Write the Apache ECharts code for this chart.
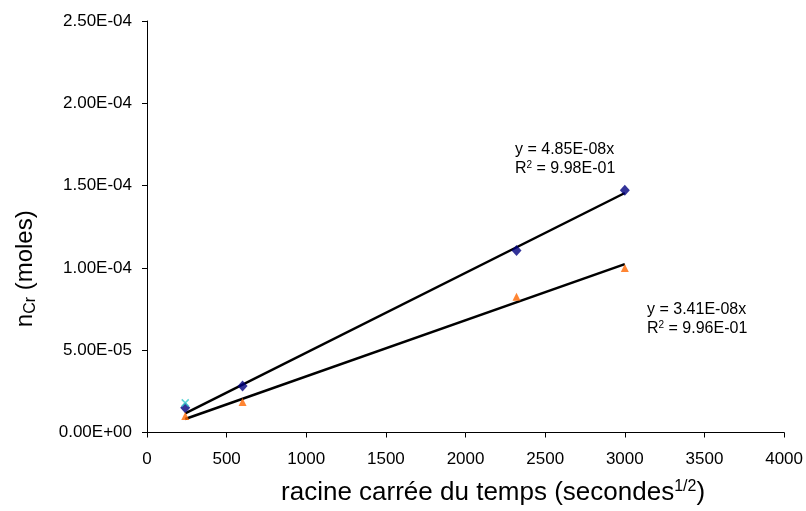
<!DOCTYPE html>
<html><head><meta charset="utf-8">
<script src="https://cdn.jsdelivr.net/npm/echarts@6/dist/echarts.min.js"></script>
<style>html,body{margin:0;padding:0;background:#fff}#c{width:806px;height:511px}</style>
</head><body><div id="c"></div>
<script>
const blueX = [240, 600, 2320, 3000];
const blueY = [1.5e-5, 2.82e-5, 1.105e-4, 1.472e-4];
const orangeX = [240, 600, 2320, 3000];
const orangeY = [1.0e-5, 1.86e-5, 8.25e-5, 1.0e-4];
const cyanX = [240];
const cyanY = [1.8e-5];
const blueTrend = [[240, 1.16e-5], [3000, 1.455e-4]];
const orangeTrend = [[240, 8.2e-6], [3000, 1.023e-4]];
const xTicks = {min: 0, max: 4000, interval: 500};
const yTicks = {min: 0, max: 2.5e-4, interval: 5e-5};

function fmtE(v) {
  if (v === 0) return '0.00E+00';
  let e = Math.floor(Math.log10(Math.abs(v)) + 1e-9);
  let m = v / Math.pow(10, e);
  if (Math.abs(m) >= 9.995) { m /= 10; e += 1; }
  const s = e < 0 ? '-' : '+';
  const ea = Math.abs(e);
  return m.toFixed(2) + 'E' + s + (ea < 10 ? '0' : '') + ea;
}
const zip = (a, b) => a.map((x, i) => [x, b[i]]);
const font = 'Liberation Sans, Arial, sans-serif';
const annA = {fontFamily: font, fontSize: 16, fill: '#000'};
const annS = {fontFamily: font, fontSize: 10, fill: '#000', padding: [0, 0, 7, 0]};
const chart = echarts.init(document.getElementById('c'));
chart.setOption({
  animation: false,
  backgroundColor: '#fff',
  grid: {left: 147, right: 21, top: 21, bottom: 73},
  xAxis: {
    type: 'value', min: xTicks.min, max: xTicks.max, interval: xTicks.interval,
    splitLine: {show: false},
    axisLine: {onZero: false, lineStyle: {color: '#000', width: 1}},
    axisTick: {inside: false, length: 5, lineStyle: {color: '#000'}},
    axisLabel: {color: '#000', fontFamily: font, fontSize: 17, margin: 18, formatter: v => String(v)},
    name: '{a|racine carrée du temps (secondes}{s|1/2}{a|)}',
    nameLocation: 'middle', nameGap: 46,
    nameTextStyle: {padding: [0, 0, 0, 55], rich: {
      a: {fontFamily: font, fontSize: 26, color: '#000'},
      s: {fontFamily: font, fontSize: 16, color: '#000', padding: [0, 0, 13, 0]}
    }}
  },
  yAxis: {
    type: 'value', min: yTicks.min, max: yTicks.max, interval: yTicks.interval,
    splitLine: {show: false},
    axisLine: {show: true, lineStyle: {color: '#000', width: 1}},
    axisTick: {show: true, inside: false, length: 5, lineStyle: {color: '#000'}},
    axisLabel: {color: '#000', fontFamily: font, fontSize: 17, margin: 15, formatter: fmtE},
    name: '{a|n}{s|Cr}{a| (moles)}',
    nameLocation: 'middle', nameGap: 108, nameRotate: 90,
    nameTextStyle: {padding: [0, 84, 0, 0], rich: {
      a: {fontFamily: font, fontSize: 24, color: '#000'},
      s: {fontFamily: font, fontSize: 16, color: '#000', padding: [12, 0, 0, 0]}
    }}
  },
  series: [
    {type: 'line', data: blueTrend, symbol: 'none', lineStyle: {color: '#000', width: 2.5}, z: 2},
    {type: 'line', data: orangeTrend, symbol: 'none', lineStyle: {color: '#000', width: 2.5}, z: 2},
    {type: 'scatter', data: zip(blueX, blueY), symbol: 'diamond', symbolSize: [10, 11], itemStyle: {color: '#000080'}, z: 3},
    {type: 'scatter', data: zip(orangeX, orangeY), symbol: 'triangle', symbolSize: [8, 8], itemStyle: {color: '#FF6600'}, z: 3},
    {type: 'scatter', data: zip(cyanX, cyanY), symbol: 'path://M0,0L10,10M10,0L0,10', symbolSize: 7,
     itemStyle: {color: 'none', borderColor: '#33CCCC', borderWidth: 1.5}, z: 4}
  ],
  graphic: [
    {type: 'text', left: 515, top: 142, style: {text: '{a|y = 4.85E-08x}', rich: {a: annA}}},
    {type: 'text', left: 515, top: 160, style: {text: '{a|R}{s|2}{a| = 9.98E-01}', rich: {a: annA, s: annS}}},
    {type: 'text', left: 647, top: 302, style: {text: '{a|y = 3.41E-08x}', rich: {a: annA}}},
    {type: 'text', left: 647, top: 320, style: {text: '{a|R}{s|2}{a| = 9.96E-01}', rich: {a: annA, s: annS}}}
  ]
});
</script></body></html>
